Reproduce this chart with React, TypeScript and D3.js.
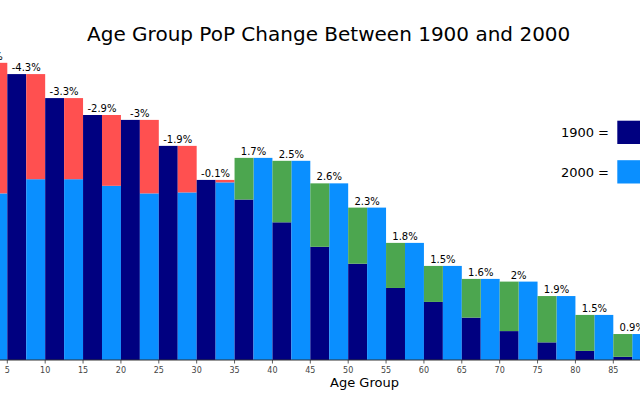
import React from "react";
import * as d3 from "d3";

const ageGroups = [0, 5, 10, 15, 20, 25, 30, 35, 40, 45, 50, 55, 60, 65, 70, 75, 80, 85];
const pop1900 = [12.13, 11.67, 10.69, 10.0, 9.8, 8.74, 7.35, 6.55, 5.62, 4.62, 3.93, 2.94, 2.37, 1.73, 1.18, 0.72, 0.37, 0.13];
const pop2000 = [6.8, 7.38, 7.38, 7.11, 6.8, 6.84, 7.25, 8.25, 8.13, 7.21, 6.22, 4.78, 3.84, 3.31, 3.2, 2.61, 1.84, 1.06];
const tickValues = [5, 10, 15, 20, 25, 30, 35, 40, 45, 50, 55, 60, 65, 70, 75, 80, 85];
const legendItems = ["1900", "2000"];

const W = 640;
const H = 400;
const FONT = "DejaVu Sans, sans-serif";
const C1900 = "#000080";
const C2000 = "#0a8fff";
const CRED = "#ff5050";
const CGREEN = "#4ca64f";

export default function App() {
  const x = d3.scaleLinear().domain([5, 85]).range([7.3, 613.3]);
  const y = d3.scaleLinear().domain([0, 14]).range([360, 360 - 24.5 * 14]);
  const bw = x(2.5) - x(0);

  const bars = ageGroups.map((a, i) => {
    const v1 = pop1900[i];
    const v2 = pop2000[i];
    const diff = v2 - v1;
    const label = `${+diff.toFixed(1)}%`;
    return { a, v1, v2, diff, label };
  });

  return (
    <svg width={W} height={H} style={{ position: "absolute", left: 0, top: 0, background: "#fff" }} fontFamily={FONT}>
      <rect width={W} height={H} fill="#fff" />
      <text x={328.7} y={41} textAnchor="middle" fontSize={20} fill="#000">
        Age Group PoP Change Between 1900 and 2000
      </text>
      {bars.map((b) => (
        <g key={b.a}>
          <rect x={x(b.a)} y={y(b.v1)} width={bw} height={y(0) - y(b.v1)} fill={C1900} />
          <rect x={x(b.a + 2.5)} y={y(b.v2)} width={bw} height={y(0) - y(b.v2)} fill={C2000} />
          {b.diff < 0 ? (
            <rect x={x(b.a + 2.5)} y={y(b.v1)} width={bw} height={y(b.v2) - y(b.v1)} fill={CRED} />
          ) : (
            <rect x={x(b.a)} y={y(b.v2)} width={bw} height={y(b.v1) - y(b.v2)} fill={CGREEN} />
          )}
          <text x={x(b.a + 2.5)} y={y(Math.max(b.v1, b.v2)) - 3} textAnchor="middle" fontSize={10} fill="#000">
            {b.label}
          </text>
        </g>
      ))}
      <line x1={0} x2={W} y1={y(0)} y2={y(0)} stroke="#333" strokeWidth={1} />
      {tickValues.map((t) => (
        <g key={t} transform={`translate(${x(t)},${y(0)})`}>
          <line y1={0} y2={3.5} stroke="#333" strokeWidth={0.8} />
          <text y={13} textAnchor="middle" fontSize={8} fill="#444">
            {t}
          </text>
        </g>
      ))}
      <text x={364.5} y={386.5} textAnchor="middle" fontSize={13} fill="#000">
        Age Group
      </text>
      {legendItems.map((l, i) => (
        <g key={l}>
          <text x={609} y={132.3 + i * 40} textAnchor="end" dominantBaseline="central" fontSize={13} fill="#000">
            {`${l} =`}
          </text>
          <rect x={617.3} y={120.7 + i * 39.5} width={30} height={23.3} fill={i === 0 ? C1900 : C2000} />
        </g>
      ))}
    </svg>
  );
}
